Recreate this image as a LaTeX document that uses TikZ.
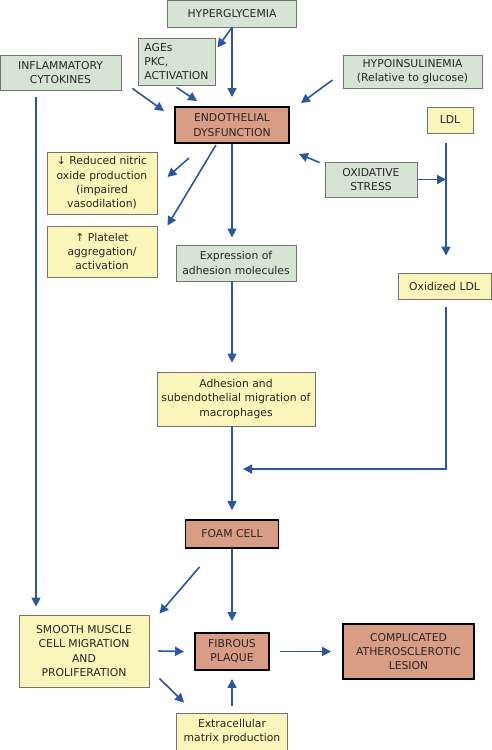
\documentclass[tikz,border=0pt]{standalone}
\usepackage{fontspec}
\setmainfont{DejaVu Sans}
\usetikzlibrary{arrows.meta}
\definecolor{boxgreen}{HTML}{D6E4D4}
\definecolor{boxyellow}{HTML}{FAF5B9}
\definecolor{boxsalmon}{HTML}{D99C85}
\definecolor{arrowblue}{HTML}{2A56A8}
\begin{document}
\begin{tikzpicture}[x=1pt,y=-1pt,every node/.style={font=\fontsize{10.8}{14.3}\selectfont,align=center,inner sep=2pt,text=black!85},greenbox/.style={draw=black!55,fill=boxgreen,line width=0.9pt},yellowbox/.style={draw=black!55,fill=boxyellow,line width=0.9pt},keybox/.style={draw=black,fill=boxsalmon,line width=1.9pt},size/.style 2 args={minimum width=#1,minimum height=#2},arr/.style={draw=arrowblue,line width=1.6pt,-{Triangle[length=9pt,width=9pt]}}]
            \useasboundingbox (0,0) rectangle (492,750);
            \node[greenbox,size={129}{27}] (hyper) at (232,13.5) {HYPERGLYCEMIA};
            \node[greenbox,size={77}{47},align=left] (ages) at (176.5,61.5) {AGEs\\PKC,\\ACTIVATION};
            \node[greenbox,size={121}{35}] (inflam) at (60.5,72.5) {INFLAMMATORY\\CYTOKINES};
            \node[greenbox,size={139}{33}] (hypo) at (412.5,71.5) {HYPOINSULINEMIA\\(Relative to glucose)};
            \node[keybox,size={114}{36}] (endo) at (232,125) {ENDOTHELIAL\\DYSFUNCTION};
            \node[yellowbox,size={46}{26}] (ldl) at (450,120) {LDL};
            \node[yellowbox,size={110}{62}] (nitric) at (102,183) {↓ Reduced nitric\\oxide production\\(impaired\\vasodilation)};
            \node[yellowbox,size={110}{51}] (platelet) at (102,251.5) {↑ Platelet\\aggregation/\\activation};
            \node[greenbox,size={92}{35}] (ox) at (371,179.5) {OXIDATIVE\\STRESS};
            \node[greenbox,size={120}{36}] (expr) at (236,263) {Expression of\\adhesion molecules};
            \node[yellowbox,size={93}{26}] (oxldl) at (444.5,286) {Oxidized LDL};
            \node[yellowbox,size={158}{54}] (adhesion) at (236,399) {Adhesion and\\subendothelial migration of\\macrophages};
            \node[keybox,size={93}{28}] (foam) at (232,534) {FOAM CELL};
            \node[yellowbox,size={130}{72}] (smooth) at (84,651) {SMOOTH MUSCLE\\CELL MIGRATION\\AND\\PROLIFERATION};
            \node[keybox,size={74}{37}] (fibrous) at (232,651.5) {FIBROUS\\PLAQUE};
            \node[keybox,size={131}{55}] (compl) at (408.5,651.5) {COMPLICATED\\ATHEROSCLEROTIC\\LESION};
            \node[yellowbox,size={111}{37}] (extra) at (232,731.5) {Extracellular\\matrix production};
            \coordinate (ldltop) at ([shift={(-4,10)}]ldl.south);
            \draw[arr] (hyper.south) -- ([shift={(2,10)}]ages.north east);
            \draw[arr] (hyper.south) -- ([shift={(0,-9)}]endo.north);
            \draw[arr] ([shift={(0,2)}]ages.south) -- ([shift={(23,-5)}]endo.north west);
            \draw[arr] ([shift={(11,-2)}]inflam.south east) -- ([shift={(-10,5)}]endo.north west);
            \draw[arr] ([shift={(-10,8.5)}]hypo.west) -- ([shift={(11,-3)}]endo.north east);
            \draw[arr] ([shift={(-5,1)}]ox.north west) -- ([shift={(9,10)}]endo.south east);
            \draw[arr] ([shift={(15,14)}]endo.south west) -- ([shift={(10,-6)}]nitric.east);
            \draw[arr] ([shift={(-16,1)}]endo.south) -- ([shift={(10,0)}]platelet.north east);
            \draw[arr,shorten >=7pt] (endo.south) -- (endo.south |- expr.north);
            \draw[arr,shorten >=9pt] (endo.south |- expr.south) -- (endo.south |- adhesion.north);
            \draw[arr,shorten >=9pt] (endo.south |- adhesion.south) -- (foam.north);
            \draw[arr,shorten >=17pt] (ldltop) -- (ldltop |- oxldl.north);
            \draw[arr] (ox.east) -- (ox.east -| ldltop);
            \draw[arr] ([shift={(1.5,8)}]oxldl.south) |- ([shift={(11,-50)}]foam.north);
            \draw[arr] ([shift={(-24.5,7)}]inflam.south) -- ([shift={(-24.5,-8)}]inflam.south |- smooth.north);
            \draw[arr,shorten >=11pt] (foam.south) -- (fibrous.north);
            \draw[arr] ([shift={(15,18)}]foam.south west) -- ([shift={(10,-1)}]smooth.north east);
            \draw[arr] ([shift={(9,0)}]smooth.east) -- ([shift={(-10,0)}]fibrous.west);
            \draw[arr] ([shift={(10,0)}]fibrous.east) -- ([shift={(-11,0)}]compl.west);
            \draw[arr] ([shift={(10,-9)}]smooth.south east) -- ([shift={(8,-10)}]extra.north west);
            \draw[arr] ([shift={(0,-7)}]extra.north) -- ([shift={(0,8)}]fibrous.south);
        \end{tikzpicture}
\end{document}
